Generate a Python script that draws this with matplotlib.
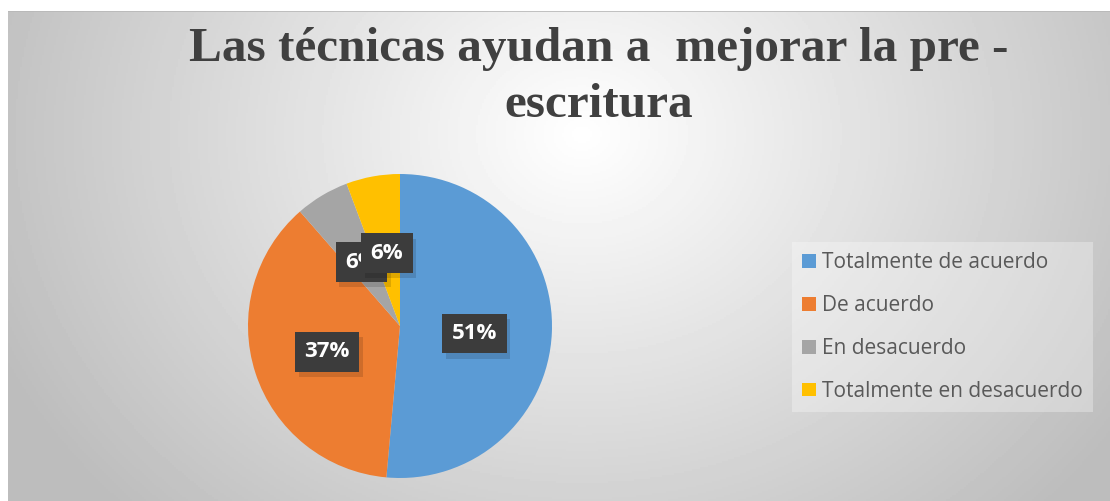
import numpy as np
import matplotlib.pyplot as plt

categories = ["Totalmente de acuerdo", "De acuerdo", "En desacuerdo", "Totalmente en desacuerdo"]
counts = [18, 13, 2, 2]
colors = ["#5B9BD5", "#ED7D31", "#A5A5A5", "#FFC000"]
title = "Las técnicas ayudan a  mejorar la pre -\nescritura"

# where the data labels sit, in pie units (radius = 1)
label_pos = [(0.49, -0.05), (-0.48, -0.17), (-0.255, 0.42), (-0.086, 0.48)]

W, H = 1110, 501
fig = plt.figure(figsize=(W / 100, H / 100), dpi=100)
fig.patch.set_facecolor("white")

# chart area with radial gray gradient
bg = fig.add_axes([8 / W, 0, 1 - 8 / W, 490 / H])
ny, nx = 245, 551
yy, xx = np.mgrid[0:ny, 0:nx]
cx, cy = nx * 0.52, ny * 0.25
r = np.sqrt(((xx - cx) / (nx * 0.58)) ** 2 + ((yy - cy) / (ny * 1.1)) ** 2)
val = 1.0 - 0.26 * np.clip(r, 0, 1)
bg.imshow(val, cmap="gray", vmin=0, vmax=1, aspect="auto", extent=[0, 1, 0, 1], origin="upper")
bg.plot([0, 1], [1, 1], color="#b8b8b8", lw=1.2, transform=bg.transAxes)
bg.set_axis_off()

fig.text(599 / W, 1 - 27 / H, title, ha="center", va="top", family="Liberation Serif",
         fontweight="bold", fontsize=35.5, color="#404040", linespacing=1.34)

ax = fig.add_axes([(400 - 152) / W, (H - 326 - 152) / H, 304 / W, 304 / H])
wedges, _ = ax.pie(counts, colors=colors, startangle=90, counterclock=False,
                   radius=1, wedgeprops=dict(linewidth=0))
ax.set_xlim(-1, 1)
ax.set_ylim(-1, 1)
ax.set_aspect("equal")

total = sum(counts)
for (x, y), c in zip(label_pos, counts):
    txt = f"{round(100 * c / total)}%"
    ax.text(x + 0.025, y - 0.035, txt, ha="center", va="center", fontsize=16,
            fontweight="bold", family="Open Sans", color=(0, 0, 0, 0),
            bbox=dict(boxstyle="square,pad=0.42", fc=(0, 0, 0, 0.13), ec="none"))
    ax.text(x, y, txt, ha="center", va="center", fontsize=16, fontweight="bold",
            family="Open Sans", color="white",
            bbox=dict(boxstyle="square,pad=0.42", fc="#3c3c3c", ec="none"))

leg = fig.legend(wedges, categories, loc="center left", bbox_to_anchor=(792 / W, 1 - 327 / H),
                 frameon=True, framealpha=0.3, facecolor="white", edgecolor="none",
                 fancybox=False, labelspacing=1.05, handlelength=0.65,
                 handleheight=0.65, handletextpad=0.3, borderpad=0.5, borderaxespad=0,
                 prop=dict(family="Open Sans", size=15))
for t in leg.get_texts():
    t.set_color("#595959")

fig.savefig("out.png", dpi=100)
